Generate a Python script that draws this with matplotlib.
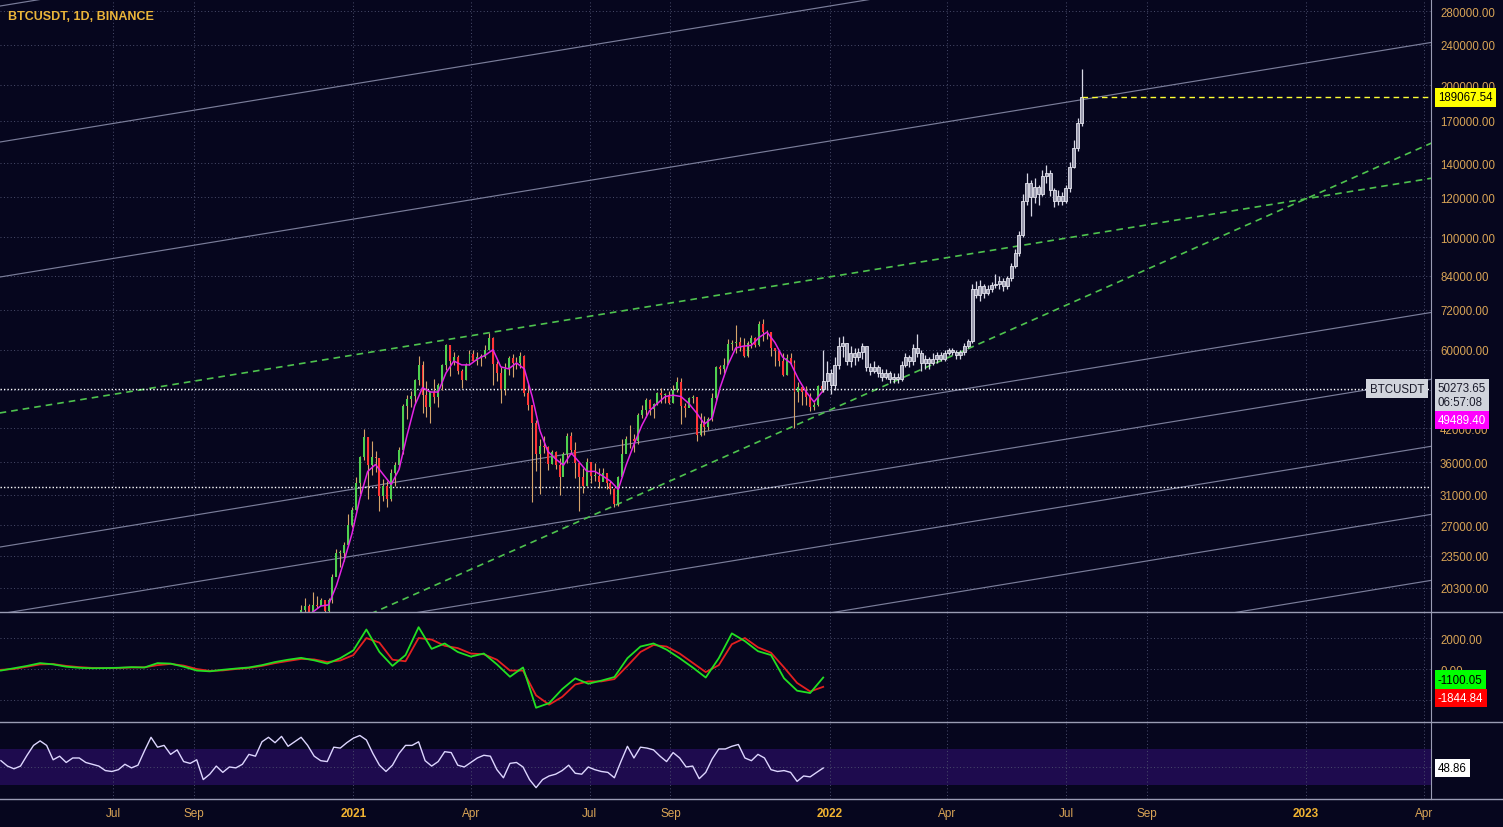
import numpy as np
import pandas as pd
import matplotlib

matplotlib.use("Agg")
import matplotlib.pyplot as plt
from matplotlib.lines import Line2D
from matplotlib.ticker import NullLocator

plt.rcParams["font.family"] = ["Liberation Sans", "DejaVu Sans"]

# ---- daily candles resampled to 3-day bars, prices in thousands USDT ----
real_start = "2020-11-01"
real_close = [
    13.8, 14.0, 15.0, 15.3, 16.3, 16.7, 17.8, 18.4, 18.7, 17.7,
    18.8, 18.7, 19.2, 18.3, 19.2, 21.3, 23.8, 23.8, 24.7, 27.0, 29.0,
    32.8, 36.8, 40.3, 35.5, 36.8, 36.6, 30.8, 32.3, 30.4, 34.3,
    35.5, 38.0, 46.4, 48.0, 48.7, 52.2, 56.0, 48.9, 46.3,
    49.6, 48.4, 51.2, 56.0, 61.2, 56.9, 58.1, 54.5, 52.3, 55.9, 58.9,
    57.1, 58.0, 58.1, 59.8, 63.2, 56.2, 54.0, 50.1, 55.0, 57.8,
    56.6, 56.4, 58.2, 49.2, 46.7, 42.9, 37.3, 38.8, 38.5, 35.7,
    37.6, 35.5, 33.6, 37.3, 40.5, 38.1, 35.8, 33.7, 32.3, 36.0,
    33.8, 33.8, 32.9, 34.2, 32.8, 31.8, 29.8, 33.6, 37.3, 40.0,
    39.9, 39.7, 44.6, 45.6, 47.8, 45.9, 46.8, 49.3, 48.9, 48.9, 47.1,
    50.0, 51.8, 46.4, 46.0, 48.1, 48.3, 40.7, 42.8, 42.2, 43.8,
    48.2, 55.4, 54.9, 56.0, 61.5, 62.0, 62.2, 61.0, 58.4, 61.9,
    63.2, 61.4, 67.5, 64.9, 65.0, 60.4, 59.7, 57.1, 53.6, 57.8,
    56.5, 49.4, 50.6, 49.4, 48.4, 46.2, 46.7, 50.8, 50.27365,
]
real_high = [
    14.1, 14.2, 15.7, 15.9, 16.5, 17.0, 18.1, 18.8, 19.4, 18.9,
    19.9, 19.6, 19.4, 19.0, 19.4, 21.6, 24.2, 24.1, 25.0, 28.4, 29.3,
    33.6, 37.0, 41.9, 40.4, 39.6, 37.8, 36.7, 33.4, 33.0, 34.8,
    36.0, 38.6, 46.8, 48.9, 49.7, 52.6, 58.3, 57.0, 52.0,
    49.8, 52.6, 51.5, 56.2, 61.7, 61.3, 59.4, 58.6, 55.0, 56.6, 59.8,
    60.0, 59.3, 58.8, 61.2, 64.8, 63.7, 57.0, 55.5, 56.5, 58.4,
    58.9, 58.0, 59.5, 58.5, 51.3, 45.8, 43.6, 40.0, 40.5, 38.8,
    38.0, 37.9, 36.7, 37.7, 41.0, 41.3, 39.5, 35.0, 35.0, 36.6,
    36.0, 35.9, 35.0, 35.0, 34.0, 33.0, 32.0, 33.8, 40.0, 40.6,
    42.6, 40.9, 45.0, 46.7, 48.1, 48.0, 47.0, 49.5, 50.5, 49.2, 49.8,
    51.0, 52.9, 52.8, 47.0, 48.5, 48.8, 47.3, 45.0, 44.3, 44.1,
    49.2, 55.7, 56.0, 57.8, 62.9, 62.6, 67.0, 63.7, 63.3, 62.4,
    64.3, 63.6, 68.5, 69.0, 65.6, 65.0, 60.6, 59.3, 59.2, 58.8,
    59.0, 57.3, 51.9, 51.0, 50.8, 49.3, 47.3, 51.2, 51.3,
]
real_low = [
    13.2, 13.3, 14.0, 14.8, 15.1, 15.9, 17.2, 17.6, 17.5, 16.3,
    18.0, 18.5, 18.8, 17.6, 18.1, 19.0, 21.8, 22.3, 23.0, 24.6, 26.8,
    28.9, 31.2, 36.3, 30.4, 34.0, 34.4, 28.8, 30.1, 29.3, 30.1,
    32.3, 35.0, 37.3, 43.7, 46.2, 47.0, 51.0, 45.0, 44.1,
    43.0, 47.0, 46.3, 50.0, 54.6, 53.3, 56.0, 53.8, 50.4, 52.2, 55.9,
    56.9, 56.0, 55.6, 57.7, 59.8, 51.0, 52.1, 47.1, 48.9, 53.5,
    53.1, 55.0, 55.3, 48.6, 45.7, 30.0, 34.5, 31.1, 37.5, 34.7,
    35.6, 34.8, 31.0, 35.3, 35.9, 37.4, 33.5, 28.8, 31.3, 32.3,
    32.7, 33.0, 32.0, 33.2, 31.9, 31.2, 29.3, 29.5, 33.6, 38.3,
    38.3, 37.6, 39.0, 43.9, 44.2, 44.5, 43.9, 46.6, 47.0, 47.0, 46.8,
    47.0, 49.5, 42.8, 44.1, 46.2, 47.1, 39.6, 40.6, 40.8, 41.7,
    43.3, 47.7, 53.7, 54.0, 56.8, 59.8, 59.0, 59.6, 58.0, 58.1,
    60.4, 60.7, 61.0, 62.3, 63.0, 58.4, 55.6, 55.8, 53.3, 53.6,
    55.9, 42.0, 47.3, 46.7, 46.6, 45.5, 45.6, 46.5, 49.6,
]

# magenta moving average, every 6 days
ma_start = "2020-11-01"
ma_values = [
    13.4, 14.2, 15.3, 16.6, 17.8, 18.2, 18.7, 18.8, 20.5, 23.0, 26.0,
    30.5, 34.5, 35.6, 34.0, 32.5, 34.8, 40.5, 46.5, 50.5,
    49.5, 49.5, 54.0, 57.0, 56.0, 56.0, 57.5, 58.5, 60.0, 55.5, 55.0,
    56.5, 55.0, 48.5, 41.5, 37.8, 36.5, 35.5, 37.5, 36.0, 34.5,
    34.5, 33.8, 33.0, 31.8, 35.5, 39.0, 42.5, 45.5, 47.0, 48.5,
    48.8, 48.5, 47.0, 45.0, 42.8, 44.0, 50.5, 56.0, 60.5, 61.0,
    61.2, 63.5, 65.0, 62.0, 58.0, 56.5, 52.5, 49.5, 47.3, 49.4894,
]

# projected (grey) bars, 3-day steps
proj_start = "2021-12-27"
proj_close = [
    52, 54, 51, 56, 61, 62, 57, 59, 58, 59.5,
    61, 55.5, 54.5, 55.5, 54, 53, 54, 52.5, 53, 52.5,
    56, 58, 57, 60.5, 59, 56.5, 57.5, 56.5, 57.5, 58.5,
    57.5, 59, 60, 59.5, 58.5, 59.5, 61, 62.5, 79, 77,
    80, 77.5, 79, 80.5, 81, 82, 80, 83, 88, 93,
    101, 118, 128, 120, 126, 122, 132, 134, 124, 118,
    121, 118, 125, 138, 150, 168, 189.06754,
]
proj_high = [
    60, 57, 55, 58, 63.5, 64, 62, 61, 60.5, 60.5,
    62, 59, 56.5, 57, 56, 55, 55, 54.5, 54, 54,
    57, 59, 58.5, 61.5, 64.5, 60, 58.5, 58, 59, 59.5,
    59.5, 60, 60.5, 60.5, 60, 60, 62, 63, 81, 82,
    82.5, 81, 80.5, 81.5, 84.5, 84, 83, 84, 89, 95,
    103, 122, 134, 130, 131, 127, 136, 139, 136, 125,
    124, 123, 127, 141, 156, 172, 215,
]
proj_low = [
    49.5, 50, 49, 50, 55, 58, 56, 55.5, 56, 57,
    57.5, 54.5, 53.5, 54, 53, 52, 52.5, 51.5, 51.5, 51.5,
    52, 55.5, 55.5, 56, 58, 54.5, 55, 55, 56, 56.5,
    57, 57, 58.5, 58.5, 57.5, 57.5, 58.5, 60.5, 62, 76,
    75, 76, 77, 78, 79.5, 79, 78.5, 79, 82, 87,
    92, 100, 116, 110, 117, 116, 121, 128, 121, 115,
    116, 116, 117, 123, 137, 148, 166,
]

# oscillators
osc_start = "2020-04-06"
macd_line = [  # every 10 days
    -100, 50, 200, 380, 300, 150, 80, 50, 60, 80,
    120, 100, 380, 350, 150, -100, -150, -50, 30, 100,
    250, 450, 600, 720, 560, 350, 700, 1200, 2550, 1100,
    200, 900, 2700, 1300, 1650, 1100, 800, 1000, 300, -500,
    100, -2500, -2200, -1300, -600, -950, -750, -520, 700, 1450,
    1650, 1250, 700, 100, -550, 700, 2300, 1800, 1150, 900,
    -600, -1400, -1550, -550,
]
signal_line = [
    -50, 0, 150, 300, 320, 200, 120, 70, 60, 70,
    100, 110, 250, 330, 220, 0, -120, -90, 0, 70,
    200, 380, 520, 650, 620, 450, 550, 900, 2000, 1700,
    600, 500, 2000, 1900, 1500, 1350, 1000, 950, 600, -100,
    -100, -1700, -2300, -1800, -1000, -800, -800, -650, 200, 1100,
    1550, 1450, 1000, 400, -200, 250, 1600, 2000, 1400, 1050,
    100, -900, -1450, -1150,
]
rsi_values = [  # every 5 days
    57, 51, 48, 51, 63, 74, 79, 74, 58, 62, 55, 60, 60, 55, 53, 51, 46, 45, 47, 53,
    49, 52, 68, 83, 72, 74, 64, 69, 56, 54, 58, 36, 42, 51, 44, 50, 49, 53, 64, 62,
    78, 83, 77, 84, 73, 78, 83, 74, 62, 57, 56, 72, 71, 77, 82, 85, 80, 65, 52, 45,
    52, 65, 74, 74, 78, 57, 51, 56, 67, 66, 52, 50, 55, 60, 63, 62, 47,
    38, 54, 55, 50, 36, 27, 36, 40, 42, 46, 52, 43, 42, 50, 47, 45, 44, 38, 56, 73,
    60, 72, 71, 69, 62, 56, 66, 60, 50, 51, 37, 44, 59, 70, 70, 73, 75, 60, 57, 64,
    60, 47, 45, 46, 44, 34, 40, 39, 44, 48.86,
]

# drawn lines (thousands USDT at both ends)
channel_dates = ["2020-04-05", "2023-04-07"]
channel_start = [286.4, 154.3, 83.5, 24.45, 18.04, 13.3, 9.76, 7.23]
channel_end = [832.9, 448.7, 242.8, 71.1, 52.46, 38.68, 28.38, 21.02]
upper_trend_dates = ["2020-04-05", "2023-04-07"]
upper_trend_prices = [45.0, 130.9]
lower_trend_dates = ["2021-01-06", "2023-04-07"]
lower_trend_prices = [17.66, 153.6]
last_price = 50273.65
dotted_level = 32150
proj_target = 189067.54

price_ticks = [280000, 240000, 200000, 170000, 140000, 120000, 100000, 84000,
               72000, 60000, 50000, 42000, 36000, 31000, 27000, 23500, 20300]
hidden_ticks = [50000]  # sits under the last-price tag
month_ticks = ["2020-07-01", "2020-09-01", "2021-01-01", "2021-04-01", "2021-07-01",
               "2021-09-01", "2022-01-01", "2022-04-01", "2022-07-01", "2022-09-01",
               "2023-01-01", "2023-04-01"]
month_labels = ["Jul", "Sep", "2021", "Apr", "Jul", "Sep", "2022", "Apr", "Jul",
                "Sep", "2023", "Apr"]

BG = "#06061e"
GRID = "#4a4d6c"
EDGE = "#9a9cb4"
TICK = "#d9a456"
W, H = 1503, 828


def panel(top, bottom, sharex=None):
    a = fig.add_axes([0, 1 - bottom / H, 1431 / W, (bottom - top) / H], sharex=sharex)
    a.set_facecolor(BG)
    for side in ["top", "left", "bottom"]:
        a.spines[side].set_visible(False)
    a.spines["right"].set_color(EDGE)
    a.yaxis.tick_right()
    a.tick_params(axis="y", length=0, pad=6.5, labelcolor=TICK, labelsize=8.3)
    a.tick_params(axis="x", length=0, labelbottom=False)
    a.grid(True, color=GRID, lw=0.7, ls=(0, (1, 2.5)))
    return a


def tag(a, y, text, fc, tc, trans=None, dy=0):
    a.annotate(text, xy=(1.0, y), xycoords=trans or a.get_yaxis_transform(),
               xytext=(5, dy), textcoords="offset points", ha="left", va="center",
               fontsize=8.3, color=tc, annotation_clip=False, zorder=30,
               bbox=dict(boxstyle="square,pad=0.28", fc=fc, ec="none"))


fig = plt.figure(figsize=(W / 100, H / 100), dpi=100, facecolor=BG)
ax = panel(0, 613)
ax_macd = panel(613, 723, sharex=ax)
ax_rsi = panel(723, 800, sharex=ax)

# ---- main price panel ----
ax.set_yscale("log")
ax.set_ylim(18200, 295800)
ax.set_yticks(price_ticks)
ax.yaxis.set_minor_locator(NullLocator())
ax.set_yticklabels(["" if v in hidden_ticks else f"{v:.2f}" for v in price_ticks])

for s, e in zip(channel_start, channel_end):
    ax.plot(pd.to_datetime(channel_dates), [s * 1000, e * 1000], color="#7a7d9a", lw=0.85, zorder=2)
ax.plot(pd.to_datetime(upper_trend_dates), np.array(upper_trend_prices) * 1000,
        color="#4ec24e", lw=1.2, ls=(0, (4, 3)), zorder=3)
ax.plot(pd.to_datetime(lower_trend_dates), np.array(lower_trend_prices) * 1000,
        color="#4ec24e", lw=1.2, ls=(0, (4, 3)), zorder=3)

ax.axhline(last_price, color="white", lw=1.0, ls=(0, (1, 1.5)), zorder=3)
ax.axhline(dotted_level, color="white", lw=1.0, ls=(0, (1, 1.5)), zorder=3)

real_dates = pd.date_range(real_start, periods=len(real_close), freq="3D")
c = np.array(real_close) * 1000
o = np.concatenate([[c[0]], c[:-1]])
hi = np.array(real_high) * 1000
lo = np.array(real_low) * 1000
colors = np.where(c >= o, "#4fd04f", "#ff3535")
ax.vlines(real_dates, lo, hi, colors="#d6a46a", lw=0.8, zorder=4)
ax.bar(real_dates, np.maximum(np.abs(c - o), c * 0.004), bottom=np.minimum(o, c),
       width=1.5, color=colors, zorder=5)

ma_dates = pd.date_range(ma_start, periods=len(ma_values), freq="6D")
ax.plot(ma_dates, np.array(ma_values) * 1000, color="#e424e4", lw=1.1, zorder=6)

proj_dates = pd.date_range(proj_start, periods=len(proj_close), freq="3D")
pc = np.array(proj_close) * 1000
po = np.concatenate([[c[-1]], pc[:-1]])
ax.vlines(proj_dates, np.array(proj_low) * 1000, np.array(proj_high) * 1000,
          colors="#d8d8e6", lw=0.9, zorder=4)
ax.bar(proj_dates, np.maximum(np.abs(pc - po), pc * 0.006), bottom=np.minimum(po, pc),
       width=2.3, color="#9a9aae", edgecolor="#e6e6f0", lw=0.6, zorder=5)

ax.hlines(proj_target, proj_dates[-1], pd.Timestamp("2023-04-07"), color="#ffff33",
          lw=1.0, ls=(0, (4, 3)), zorder=6)

tag(ax, proj_target, f"{proj_target:.2f}", "#ffff00", "black")
tag(ax, last_price, f"{last_price:.2f}\n06:57:08", "#d1d4dc", "#1a1a2a", dy=-4.5)
tag(ax, ma_values[-1] * 1000, f"{ma_values[-1] * 1000:.2f}", "#ff00ff", "white", dy=-20)
ax.annotate("BTCUSDT", xy=(1.0, last_price), xycoords=ax.get_yaxis_transform(),
            xytext=(-5, 0), textcoords="offset points", ha="right", va="center",
            fontsize=8.3, color="#1a1a2a", zorder=30,
            bbox=dict(boxstyle="square,pad=0.3", fc="#d1d4dc", ec="none"))

# ---- MACD panel ----
osc10 = pd.date_range(osc_start, periods=len(macd_line), freq="10D")
ax_macd.plot(osc10, signal_line, color="#e42020", lw=1.3)
ax_macd.plot(osc10, macd_line, color="#22e022", lw=1.3)
ax_macd.set_ylim(-3420, 3680)
ax_macd.set_yticks([2000, 0, -2000])
ax_macd.set_yticklabels(["2000.00", "0.00", ""])
tag(ax_macd, 0.385, "-1100.05", "#00ff00", "black", trans=ax_macd.transAxes)
tag(ax_macd, 0.22, "-1844.84", "#ff0000", "white", trans=ax_macd.transAxes)

# ---- RSI panel ----
osc5 = pd.date_range(osc_start, periods=len(rsi_values), freq="5D")
ax_rsi.axhspan(30, 70, color="#1e0b4e", lw=0, zorder=0)
ax_rsi.plot(osc5, rsi_values, color="#ddd6ff", lw=1.0)
ax_rsi.set_ylim(14.4, 100)
ax_rsi.set_yticks([50])
ax_rsi.set_yticklabels([""])
tag(ax_rsi, rsi_values[-1], f"{rsi_values[-1]:.2f}", "white", "black")

ax.set_xlim(pd.Timestamp("2020-04-05 07:00"), pd.Timestamp("2023-04-06 16:00"))
ax_rsi.set_xticks(pd.to_datetime(month_ticks))
ax_rsi.set_xticklabels(month_labels)
ax_rsi.tick_params(axis="x", labelbottom=True, pad=6, labelsize=8.5, labelcolor=TICK)
for lab in ax_rsi.get_xticklabels():
    if lab.get_text().isdigit():
        lab.set_fontweight("bold")
        lab.set_color("#f2b431")

for yy in [613, 723, 800]:
    fig.add_artist(Line2D([0, 1], [1 - yy / H] * 2, color=EDGE, lw=1.0,
                          transform=fig.transFigure))

fig.text(8 / W, 1 - 17 / H, "BTCUSDT, 1D, BINANCE", color="#ebb53a",
         fontsize=9, fontweight="bold", va="center", ha="left")

fig.savefig("out.png", dpi=100, facecolor=BG)
